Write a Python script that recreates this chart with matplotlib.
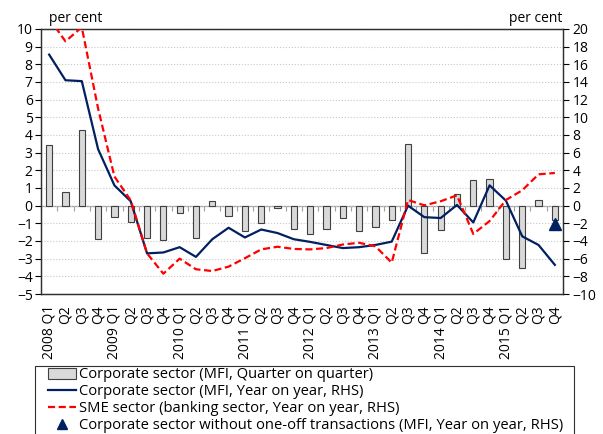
import matplotlib
matplotlib.use("Agg")
import matplotlib.pyplot as plt
from matplotlib.lines import Line2D
from matplotlib.patches import Patch, Rectangle
import numpy as np

plt.rcParams['font.family'] = ['Open Sans', 'DejaVu Sans']
plt.rcParams['font.size'] = 10

# quarter labels 2008 Q1 .. 2015 Q4
years = [2008, 2009, 2010, 2011, 2012, 2013, 2014, 2015]
quarter_labels = []
for y in years:
    quarter_labels += [f"{y} Q1", "Q2", "Q3", "Q4"]

# corporate sector, MFI, quarter on quarter (left axis)
corp_qoq = [3.43, 0.77, 4.26, -1.90,
            -0.62, -0.90, -1.83, -1.96,
            -0.43, -1.83, 0.27, -0.61,
            -1.45, -1.00, -0.12, -1.31,
            -1.58, -1.30, -0.72, -1.42,
            -1.19, -0.83, 3.49, -2.66,
            -1.36, 0.68, 1.45, 1.53,
            -3.04, -3.51, 0.34, -0.81]

# corporate sector, MFI, year on year (right axis)
corp_yoy = [17.1, 14.2, 14.1, 6.4,
            2.3, 0.5, -5.4, -5.3,
            -4.7, -5.8, -3.8, -2.5,
            -3.6, -2.7, -3.1, -3.8,
            -4.1, -4.45, -4.8, -4.7,
            -4.45, -4.07, 0.0, -1.3,
            -1.4, 0.08, -1.9, 2.3,
            0.57, -3.47, -4.45, -6.7]

# SME sector, banking sector, year on year (right axis)
sme_yoy = [21.2, 18.6, 20.2, 11.0,
           3.3, 0.6, -5.4, -7.7,
           -6.0, -7.2, -7.4, -6.9,
           -5.95, -4.95, -4.65, -4.9,
           -4.95, -4.8, -4.4, -4.2,
           -4.6, -6.45, 0.64, 0.04,
           0.5, 1.17, -3.2, -1.74,
           0.64, 1.74, 3.55, 3.7]

# corporate sector without one-off transactions (last quarter only)
oneoff_idx = [31]
oneoff_val = [-2.1]

navy = '#002060'
red = '#FF0000'

x = np.arange(len(quarter_labels))

fig = plt.figure(figsize=(6.03, 4.34), dpi=100)
ax = fig.add_axes([41 / 603, 1 - 294 / 434, 522 / 603, 265 / 434])
ax2 = ax.twinx()

ax.set_zorder(1)
ax2.set_zorder(2)

# grid
ax.set_ylim(-5, 10)
ax.set_yticks(range(-5, 11))
ax.grid(axis='y', color='#c8c8c8', linestyle=':', linewidth=0.8)
ax.set_axisbelow(True)

ax.bar(x, corp_qoq, width=0.38, color='#d9d9d9', edgecolor='#404040',
       linewidth=0.8, zorder=2)

ax.set_xlim(-0.5, len(x) - 0.5)
ax.set_xticks(x)
ax.set_xticklabels(quarter_labels, rotation=90)
ax.tick_params(axis='x', length=0, pad=8)
ax.tick_params(axis='y', direction='out', length=4, width=0.8, pad=2)

# zero line with category-boundary ticks
zero_axis = ax.secondary_xaxis(1 / 3)
zero_axis.set_xticks(np.arange(-0.5, len(x), 1.0))
zero_axis.set_xticklabels([])
zero_axis.tick_params(direction='out', length=3.5, color='#a0a0a0', width=0.8)
zero_axis.spines['bottom'].set_color('#a0a0a0')
zero_axis.spines['bottom'].set_linewidth(0.9)

ax2.plot(x, corp_yoy, color=navy, linewidth=1.6, zorder=3)
ax2.plot(x, sme_yoy, color=red, linewidth=1.6, linestyle=(0, (3.2, 1.6)),
         zorder=3)
ax2.plot(oneoff_idx, oneoff_val, linestyle='none', marker='^', color=navy,
         markersize=8, zorder=4)
ax2.set_ylim(-10, 20)
ax2.set_yticks(range(-10, 21, 2))
ax2.tick_params(axis='y', direction='out', length=4, width=0.8, pad=3)

for a in (ax, ax2):
    for s in a.spines.values():
        s.set_color('#303030')
        s.set_linewidth(0.9)

fig.text(49 / 603, 1 - 18 / 434, 'per cent', ha='left', va='center')
fig.text(562 / 603, 1 - 18 / 434, 'per cent', ha='right', va='center')

handles = [
    Patch(facecolor='#d9d9d9', edgecolor='#404040', linewidth=0.8),
    Line2D([], [], color=navy, linewidth=1.6),
    Line2D([], [], color=red, linewidth=1.6, linestyle=(0, (3.2, 1.6))),
    Line2D([], [], color=navy, linestyle='none', marker='^', markersize=7),
]
labels = [
    'Corporate sector (MFI, Quarter on quarter)',
    'Corporate sector (MFI, Year on year, RHS)',
    'SME sector (banking sector, Year on year, RHS)',
    'Corporate sector without one-off transactions (MFI, Year on year, RHS)',
]
leg = fig.legend(handles, labels, loc='upper left',
                 bbox_to_anchor=(48 / 603, 1 - 367.5 / 434),
                 bbox_transform=fig.transFigure,
                 borderaxespad=0, frameon=False,
                 handlelength=1.9, handletextpad=0.2,
                 labelspacing=0.13, borderpad=0.0, fontsize=10.6)

# legend box, running off the bottom of the figure
fig.patches.append(Rectangle((35 / 603, -0.05), 539 / 603, 0.05 + 1 - 366 / 434,
                             transform=fig.transFigure, fill=False,
                             edgecolor='#303030', linewidth=0.8))

fig.savefig('out.png', dpi=100)
